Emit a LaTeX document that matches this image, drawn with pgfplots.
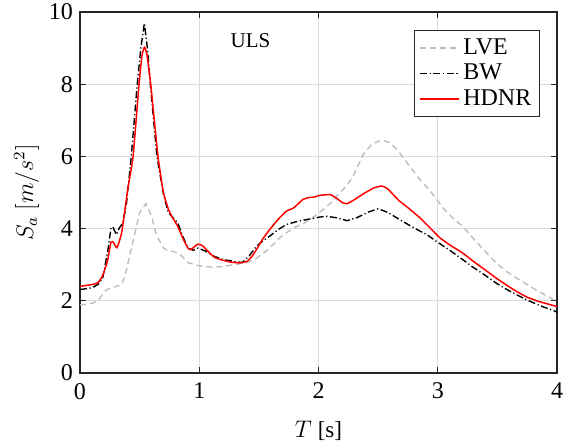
\documentclass[border=0pt]{standalone}
\usepackage{fontspec}
\setmainfont{Liberation Serif}
\usepackage{pgfplots}
\pgfplotsset{compat=1.18}
\usetikzlibrary{calc}
\definecolor{lvegray}{rgb}{0.74,0.74,0.74}
\definecolor{gridgray}{rgb}{0.86,0.86,0.86}
\definecolor{axgray}{rgb}{0.15,0.15,0.15}
\pgfplotsset{mylegline/.style={legend image code/.code={\draw[##1] (0pt,0pt) -- (19pt,0pt);}}}
\begin{document}
\begin{tikzpicture}
\begin{axis}[
  scale only axis,
  width=238.5pt, height=180.5pt,
  xmin=0, xmax=4, ymin=0, ymax=10,
  xtick={0,1,2,3,4}, ytick={0,2,4,6,8,10},
  grid=major,
  major grid style={gridgray, line width=0.5pt},
  axis line style={axgray, line width=0.6pt},
  tick style={axgray, line width=0.6pt},
  tick align=inside,
  major tick length=3pt,
  xtick pos=both, ytick pos=both,
  /pgf/number format/assume math mode=true,
  tick label style={font=\fontsize{12}{14}\selectfont},
  xticklabel style={yshift=-1.5pt},
  xlabel={$T$ [s]},
  ylabel={$S_a$ $[m/s^2]$},
  label style={font=\fontsize{11.5}{13}\selectfont},
  xlabel style={yshift=-4pt},
  ylabel style={yshift=-2pt},
  legend style={at={(0.964,0.950)}, anchor=north east, draw=axgray, line width=0.5pt,
    font=\fontsize{12}{14}\selectfont, inner sep=2pt, row sep=-0.5pt},
  legend cell align=left,
  legend image post style={xscale=1.12},
]
\addplot[lvegray, line width=0.7pt, dash pattern=on 3pt off 2pt] coordinates {
(0,1.89) (0.05,1.90) (0.11,1.94) (0.16,2.05) (0.22,2.30) (0.28,2.38) (0.35,2.44)
(0.39,2.86) (0.447,3.69) (0.50,4.44) (0.553,4.69) (0.60,4.34) (0.64,3.83) (0.70,3.46)
(0.74,3.38) (0.78,3.37) (0.84,3.28) (0.91,3.05) (1.0,2.97) (1.12,2.93) (1.2,2.95)
(1.29,3.00) (1.40,3.06) (1.48,3.18) (1.57,3.40) (1.68,3.76) (1.79,4.02) (1.87,4.13)
(1.95,4.30) (2.04,4.53) (2.10,4.70) (2.18,5.0) (2.24,5.20) (2.29,5.45) (2.34,5.80)
(2.38,6.08) (2.45,6.35) (2.53,6.45) (2.60,6.38) (2.68,6.10) (2.76,5.75) (2.85,5.36)
(2.935,5.05) (3.05,4.55) (3.13,4.28) (3.21,4.06) (3.30,3.72) (3.40,3.36) (3.49,3.05)
(3.57,2.83) (3.66,2.63) (3.75,2.45) (3.85,2.25) (4.0,1.98)
};
\addlegendentry{LVE}
\addplot[black, line width=0.7pt, dash pattern=on 3.5pt off 1.3pt on 0.6pt off 1.3pt] coordinates {
(0,2.31) (0.1,2.36) (0.15,2.45) (0.19,2.62) (0.235,3.42) (0.26,4.02) (0.275,4.05)
(0.305,3.83) (0.33,4.02) (0.36,4.16) (0.39,4.7) (0.43,6.0) (0.48,8.0) (0.51,9.0)
(0.54,9.69) (0.565,9.0) (0.59,8.0) (0.645,6.0) (0.70,4.95) (0.74,4.45) (0.78,4.30)
(0.82,4.16) (0.86,3.80) (0.905,3.46) (0.95,3.40) (0.99,3.46) (1.05,3.38) (1.12,3.24)
(1.2,3.14) (1.28,3.10) (1.36,3.06) (1.42,3.25) (1.48,3.51) (1.53,3.65) (1.59,3.79)
(1.66,3.97) (1.73,4.11) (1.8,4.18) (1.87,4.23) (1.95,4.28) (2.01,4.32) (2.07,4.34)
(2.15,4.30) (2.24,4.22) (2.32,4.30) (2.42,4.46) (2.50,4.55) (2.58,4.45) (2.68,4.25)
(2.80,4.02) (2.91,3.83) (3.0,3.62) (3.1,3.40) (3.21,3.14) (3.3,2.92) (3.4,2.70)
(3.49,2.49) (3.57,2.33) (3.66,2.17) (3.75,2.02) (3.87,1.85) (4.0,1.69)
};
\addlegendentry{BW}
\addplot[red, line width=0.75pt, smooth, tension=0.3, legend image post style={line width=1.1pt}] coordinates {
(0,2.40) (0.1,2.45) (0.15,2.50) (0.19,2.70) (0.23,3.10) (0.26,3.62) (0.28,3.62)
(0.31,3.47) (0.35,3.90) (0.40,5.08) (0.445,6.0) (0.495,8.0) (0.52,8.8) (0.54,9.02)
(0.56,8.85) (0.593,8.0) (0.654,6.0) (0.70,5.0) (0.74,4.55) (0.77,4.34) (0.82,4.06)
(0.86,3.75) (0.905,3.46) (0.93,3.42) (0.96,3.50) (0.99,3.57) (1.03,3.52) (1.08,3.35)
(1.13,3.20) (1.2,3.12) (1.27,3.07) (1.34,3.05) (1.40,3.09) (1.44,3.22) (1.48,3.42)
(1.53,3.70) (1.59,3.97) (1.66,4.25) (1.73,4.48) (1.79,4.57) (1.84,4.72) (1.87,4.81)
(1.92,4.86) (1.96,4.87) (2.01,4.92) (2.10,4.94) (2.16,4.82) (2.20,4.72) (2.24,4.69)
(2.30,4.80) (2.38,4.97) (2.46,5.12) (2.53,5.18) (2.58,5.10) (2.63,4.93) (2.68,4.76)
(2.75,4.58) (2.85,4.30) (2.935,4.02) (3.02,3.74) (3.10,3.55) (3.21,3.32) (3.30,3.09)
(3.40,2.85) (3.49,2.63) (3.57,2.45) (3.66,2.26) (3.75,2.10) (3.85,1.98) (4.0,1.84)
};
\addlegendentry{HDNR}
\node[font=\fontsize{10.5}{12}\selectfont] at (axis cs:1.43,9.22) {ULS};
\coordinate (sw) at (rel axis cs:0,0);
\coordinate (ne) at (rel axis cs:1,1);
\end{axis}
\pgfresetboundingbox
\path[use as bounding box] ($(sw)+(-40pt,-35pt)$) rectangle ($(ne)+(7pt,6pt)$);
\end{tikzpicture}
\end{document}
